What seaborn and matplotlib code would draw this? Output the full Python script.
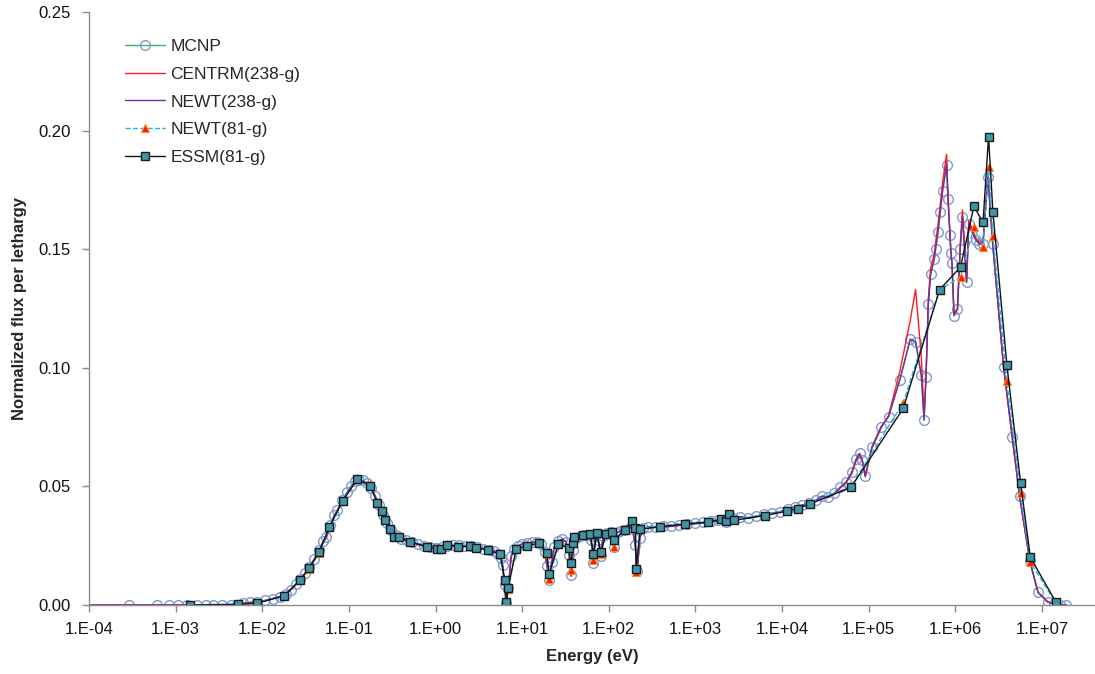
import numpy as np
import pandas as pd
import matplotlib
matplotlib.use("Agg")
import matplotlib.pyplot as plt
import seaborn as sns
from matplotlib.ticker import FuncFormatter, NullLocator

sns.set_theme(style="ticks")
plt.rcParams['font.family'] = ['Liberation Sans', 'DejaVu Sans']

nan = np.nan

# 238-group grid (MCNP tallies, CENTRM and NEWT 238-g share it)
energy_238 = [
    1.0e-4, 2.92e-4, 6.15e-4, 8.46e-4, 1.07e-3, 1.35e-3, 1.75e-3, 2.24e-3, 2.72e-3, 3.41e-3,
    4.33e-3, 5.12e-3, 6.05e-3, 7.23e-3, 8.71e-3, 0.0108, 0.0133, 0.0161, 0.0188, 0.0215,
    0.0245, 0.0273, 0.0312, 0.0347, 0.0396, 0.0453, 0.0504, 0.0546, 0.0607, 0.0675,
    0.0731, 0.0834, 0.0953, 0.106, 0.118, 0.131, 0.146, 0.162, 0.180, 0.201,
    0.223, 0.248, 0.276, 0.307, 0.351, 0.401, 0.458, 0.537, 0.630, 0.738,
    0.867, 1.02, 1.19, 1.36, 1.60, 1.87, 2.20, 2.58, 3.02, 3.55,
    4.16, 4.75, 5.28, 5.72, 5.96, 6.28, 6.53, 6.89, 7.46, 8.09,
    8.99, 10.0, 11.4, 13.0, 14.9, 16.6, 18.2, 19.5, 20.5, 21.9,
    23.4, 26.1, 29.0, 32.2, 34.9, 36.8, 38.8, 42.1, 46.8, 52.0,
    57.8, 62.7, 66.1, 69.7, 75.5, 80.7, 86.1, 95.9, 107, 114,
    122, 136, 151, 167, 186, 202, 213, 228, 250, 285,
    344, 425, 526, 650, 804, 995, 1230, 1520, 1830, 2270,
    2730, 3290, 4070, 5040, 6220, 7710, 9530, 1.18e4, 1.42e4, 1.71e4,
    2.06e4, 2.48e4, 2.91e4, 3.41e4, 4.01e4, 4.70e4, 5.51e4, 6.41e4, 7.13e4, 7.85e4,
    8.43e4, 9.14e4, 1.09e5, 1.39e5, 1.70e5, 2.29e5, 3.02e5, 3.48e5, 4.05e5, 4.36e5,
    4.59e5, 4.88e5, 5.19e5, 5.72e5, 5.93e5, 6.31e5, 6.71e5, 7.13e5, 7.94e5, 8.24e5,
    8.69e5, 8.92e5, 9.16e5, 9.66e5, 1.06e6, 1.14e6, 1.21e6, 1.35e6, 1.43e6, 1.72e6,
    1.89e6, 2.09e6, 2.38e6, 2.70e6, 3.61e6, 4.55e6, 5.53e6, 7.25e6, 9.02e6, 1.16e7,
    1.37e7, 1.63e7, 1.91e7,
]

mcnp = [
    nan, 0.0, 0.0, 0.0, 0.0, 0.0, 0.0, 0.0, 0.0, 0.0,
    0.0001, 0.0002, 0.0007, 0.0011, 0.0013, 0.0019, 0.0027, 0.0034, 0.0046, 0.0065,
    0.0089, 0.0110, 0.0135, 0.0160, 0.0194, 0.0232, 0.0270, 0.0288, 0.0337, 0.0379,
    0.0400, 0.0441, 0.0476, 0.0502, 0.0521, 0.0527, 0.0525, 0.0514, 0.0493, 0.0460,
    0.0422, 0.0379, 0.0346, 0.0316, 0.0293, 0.0280, 0.0272, 0.0264, 0.0255, 0.0249,
    0.0245, 0.0240, 0.0245, 0.0249, 0.0251, 0.0251, 0.0249, 0.0249, 0.0245, 0.0238,
    0.0232, 0.0226, 0.0217, 0.0198, 0.0169, 0.0084, 0.0008, 0.0072, 0.0207, 0.0236,
    0.0249, 0.0257, 0.0261, 0.0264, 0.0266, 0.0255, 0.0223, 0.0164, 0.0105, 0.0181,
    0.0245, 0.0270, 0.0278, 0.0266, 0.0211, 0.0126, 0.0232, 0.0282, 0.0291, 0.0295,
    0.0297, 0.0274, 0.0177, 0.0291, 0.0274, 0.0207, 0.0291, 0.0304, 0.0308, 0.0245,
    0.0304, 0.0312, 0.0316, 0.0320, 0.0329, 0.0253, 0.0143, 0.0282, 0.0325, 0.0329,
    0.0329, 0.0331, 0.0333, 0.0337, 0.0341, 0.0344, 0.0348, 0.0352, 0.0358, 0.0350,
    0.0365, 0.0373, 0.0367, 0.0375, 0.0384, 0.0388, 0.0394, 0.0405, 0.0413, 0.0422,
    0.0430, 0.0443, 0.0460, 0.0455, 0.0472, 0.0497, 0.0520, 0.0562, 0.0614, 0.0640,
    0.0611, 0.0545, 0.0667, 0.0752, 0.0794, 0.0949, 0.1121, 0.1110, 0.0970, 0.0780,
    0.0963, 0.1268, 0.1394, 0.1457, 0.1502, 0.1571, 0.1657, 0.1745, 0.1855, 0.1712,
    0.1560, 0.1483, 0.1441, 0.1220, 0.1247, 0.1501, 0.1637, 0.1360, 0.1605, 0.1539,
    0.1522, 0.1522, 0.1806, 0.1522, 0.1005, 0.0710, 0.0461, 0.0186, 0.0054, 0.0014,
    0.0004, 0.0, 0.0,
]

centrm_238 = [
    0.0, 0.0, 0.0, 0.0, 0.0, 0.0, 0.0, 0.0, 0.0, 0.0,
    0.0001, 0.0002, 0.0007, 0.0011, 0.0013, 0.0019, 0.0027, 0.0034, 0.0046, 0.0065,
    0.0087, 0.0107, 0.0131, 0.0155, 0.0188, 0.0226, 0.0263, 0.0282, 0.0330, 0.0371,
    0.0393, 0.0434, 0.0469, 0.0496, 0.0515, 0.0522, 0.0521, 0.0511, 0.0491, 0.0459,
    0.0421, 0.0379, 0.0346, 0.0315, 0.0292, 0.0279, 0.0271, 0.0263, 0.0254, 0.0248,
    0.0244, 0.0239, 0.0244, 0.0248, 0.0250, 0.0250, 0.0248, 0.0248, 0.0244, 0.0237,
    0.0231, 0.0225, 0.0215, 0.0195, 0.0160, 0.0070, 0.0004, 0.0060, 0.0200, 0.0234,
    0.0248, 0.0256, 0.0260, 0.0263, 0.0265, 0.0253, 0.0218, 0.0155, 0.0098, 0.0175,
    0.0243, 0.0269, 0.0277, 0.0265, 0.0205, 0.0120, 0.0228, 0.0281, 0.0290, 0.0294,
    0.0296, 0.0270, 0.0172, 0.0289, 0.0272, 0.0203, 0.0289, 0.0303, 0.0307, 0.0240,
    0.0303, 0.0311, 0.0315, 0.0319, 0.0328, 0.0250, 0.0140, 0.0280, 0.0323, 0.0327,
    0.0327, 0.0329, 0.0331, 0.0335, 0.0339, 0.0342, 0.0346, 0.0350, 0.0355, 0.0349,
    0.0362, 0.0370, 0.0366, 0.0373, 0.0382, 0.0386, 0.0392, 0.0403, 0.0411, 0.0420,
    0.0428, 0.0440, 0.0457, 0.0453, 0.0469, 0.0493, 0.0515, 0.0555, 0.0605, 0.0635,
    0.0610, 0.0540, 0.0660, 0.0745, 0.0800, 0.0985, 0.1200, 0.1330, 0.1050, 0.0800,
    0.0960, 0.1290, 0.1420, 0.1480, 0.1530, 0.1600, 0.1690, 0.1780, 0.1900, 0.1720,
    0.1560, 0.1480, 0.1440, 0.1230, 0.1250, 0.1520, 0.1665, 0.1370, 0.1620, 0.1550,
    0.1530, 0.1530, 0.1820, 0.1530, 0.1000, 0.0700, 0.0455, 0.0183, 0.0052, 0.0013,
    0.0003, 0.0, 0.0,
]

newt_238 = [
    0.0, 0.0, 0.0, 0.0, 0.0, 0.0, 0.0, 0.0, 0.0, 0.0,
    0.0001, 0.0002, 0.0006, 0.0010, 0.0013, 0.0019, 0.0027, 0.0035, 0.0046, 0.0065,
    0.0088, 0.0108, 0.0133, 0.0158, 0.0191, 0.0229, 0.0266, 0.0285, 0.0333, 0.0374,
    0.0396, 0.0437, 0.0472, 0.0499, 0.0518, 0.0524, 0.0523, 0.0512, 0.0492, 0.0460,
    0.0422, 0.0380, 0.0347, 0.0316, 0.0293, 0.0280, 0.0272, 0.0264, 0.0255, 0.0249,
    0.0245, 0.0240, 0.0245, 0.0249, 0.0251, 0.0251, 0.0249, 0.0249, 0.0245, 0.0238,
    0.0232, 0.0226, 0.0216, 0.0196, 0.0165, 0.0078, 0.0005, 0.0066, 0.0204, 0.0235,
    0.0249, 0.0257, 0.0261, 0.0264, 0.0266, 0.0254, 0.0220, 0.0160, 0.0102, 0.0178,
    0.0244, 0.0270, 0.0278, 0.0266, 0.0208, 0.0123, 0.0230, 0.0282, 0.0291, 0.0295,
    0.0297, 0.0272, 0.0175, 0.0290, 0.0273, 0.0205, 0.0290, 0.0304, 0.0308, 0.0243,
    0.0304, 0.0312, 0.0316, 0.0320, 0.0329, 0.0252, 0.0142, 0.0281, 0.0324, 0.0328,
    0.0328, 0.0330, 0.0332, 0.0336, 0.0340, 0.0343, 0.0347, 0.0351, 0.0357, 0.0350,
    0.0364, 0.0372, 0.0367, 0.0374, 0.0383, 0.0387, 0.0393, 0.0404, 0.0412, 0.0421,
    0.0429, 0.0442, 0.0459, 0.0454, 0.0471, 0.0496, 0.0518, 0.0560, 0.0612, 0.0638,
    0.0611, 0.0545, 0.0665, 0.0750, 0.0795, 0.0950, 0.1120, 0.1110, 0.0968, 0.0780,
    0.0963, 0.1268, 0.1394, 0.1457, 0.1502, 0.1571, 0.1657, 0.1745, 0.1860, 0.1712,
    0.1560, 0.1483, 0.1441, 0.1220, 0.1247, 0.1501, 0.1640, 0.1360, 0.1605, 0.1539,
    0.1522, 0.1522, 0.1806, 0.1522, 0.1005, 0.0710, 0.0461, 0.0186, 0.0054, 0.0014,
    0.0004, 0.0, 0.0,
]

# 81-group grid (NEWT 81-g and ESSM)
energy_81 = [
    1.47e-3, 5.2e-3, 8.65e-3, 0.0179, 0.0273, 0.0347, 0.0453, 0.0596, 0.0851, 0.125,
    0.176, 0.213, 0.240, 0.264, 0.297, 0.335, 0.380, 0.513, 0.791, 1.03,
    1.17, 1.35, 1.84, 2.51, 2.94, 4.02, 5.57, 6.31, 6.59, 6.89,
    8.53, 11.5, 15.7, 19.1, 20.5, 26.2, 34.3, 36.8, 38.5, 39.8,
    50.2, 61.0, 66.6, 72.9, 81.1, 92.6, 109, 115, 152, 186,
    202, 207, 230, 395, 762, 1380, 1986, 2270, 2410, 2806,
    6280, 1.13e4, 1.51e4, 2.10e4, 6.25e4, 2.51e5, 6.59e5, 1.15e6, 1.64e6, 2.09e6,
    2.42e6, 2.72e6, 3.94e6, 5.68e6, 7.35e6, 1.44e7,
]

newt_81 = [
    0.0, 0.0003, 0.0008, 0.0040, 0.0106, 0.0152, 0.0219, 0.0328, 0.0440, 0.0535,
    0.0508, 0.0433, 0.0400, 0.0364, 0.0322, 0.0292, 0.0292, 0.0269, 0.0249, 0.0240,
    0.0238, 0.0256, 0.0249, 0.0250, 0.0245, 0.0235, 0.0216, 0.0100, 0.0, 0.0068,
    0.0238, 0.0253, 0.0264, 0.0214, 0.0110, 0.0259, 0.0240, 0.0148, 0.0263, 0.0290,
    0.0298, 0.0301, 0.0190, 0.0305, 0.0215, 0.0301, 0.0312, 0.0245, 0.0319, 0.0350,
    0.0329, 0.0140, 0.0322, 0.0334, 0.0346, 0.0353, 0.0365, 0.0358, 0.0384, 0.0361,
    0.0381, 0.0399, 0.0410, 0.0430, 0.0500, 0.0853, 0.1329, 0.1383, 0.1592, 0.1509,
    0.1848, 0.1557, 0.0944, 0.0471, 0.0180, 0.0010,
]

essm_81 = [
    0.0, 0.0003, 0.0007, 0.0039, 0.0105, 0.0155, 0.0222, 0.0330, 0.0440, 0.0530,
    0.0503, 0.0429, 0.0396, 0.0360, 0.0319, 0.0288, 0.0288, 0.0266, 0.0246, 0.0237,
    0.0235, 0.0253, 0.0246, 0.0247, 0.0242, 0.0232, 0.0214, 0.0104, 0.0011, 0.0073,
    0.0235, 0.0250, 0.0261, 0.0218, 0.0132, 0.0256, 0.0242, 0.0176, 0.0260, 0.0288,
    0.0295, 0.0298, 0.0215, 0.0302, 0.0223, 0.0298, 0.0309, 0.0274, 0.0316, 0.0354,
    0.0326, 0.0153, 0.0319, 0.0330, 0.0342, 0.0349, 0.0361, 0.0354, 0.0384, 0.0357,
    0.0377, 0.0395, 0.0406, 0.0426, 0.0496, 0.0829, 0.1329, 0.1425, 0.1681, 0.1613,
    0.1973, 0.1656, 0.1012, 0.0514, 0.0201, 0.0014,
]

df238 = pd.DataFrame({'Energy': energy_238, 'MCNP': mcnp,
                      'CENTRM': centrm_238, 'NEWT238': newt_238})
df81 = pd.DataFrame({'Energy': energy_81, 'NEWT81': newt_81, 'ESSM': essm_81})

fig = plt.figure(figsize=(10.95, 6.74), dpi=100)
ax = fig.add_axes([0.0813, 0.1024, 0.9187, 0.8798])

sns.lineplot(data=df238, x='Energy', y='MCNP', ax=ax, estimator=None, sort=False,
             color='#3cb371', linewidth=1.0, marker='o', markersize=7,
             markerfacecolor='none', markeredgecolor='#7f9bcc', markeredgewidth=1.0,
             label='MCNP')
sns.lineplot(data=df238, x='Energy', y='CENTRM', ax=ax, estimator=None, sort=False,
             color='#ff1a1a', linewidth=1.0, label='CENTRM(238-g)')
sns.lineplot(data=df238, x='Energy', y='NEWT238', ax=ax, estimator=None, sort=False,
             color='#7030a0', linewidth=1.0, label='NEWT(238-g)')
sns.lineplot(data=df81, x='Energy', y='NEWT81', ax=ax, estimator=None, sort=False,
             color='#1fb8f0', linewidth=1.0, linestyle='--', marker='^', markersize=6,
             markerfacecolor='#ff1a00', markeredgecolor='#ff8c1a', markeredgewidth=0.8,
             label='NEWT(81-g)')
sns.lineplot(data=df81, x='Energy', y='ESSM', ax=ax, estimator=None, sort=False,
             color='#111111', linewidth=1.0, marker='s', markersize=6,
             markerfacecolor='#3f95a8', markeredgecolor='#1a1a1a', markeredgewidth=1.0,
             label='ESSM(81-g)')

ax.set_xscale('log')
ax.set_xlim(1e-4, 4.1e7)
ax.set_ylim(0, 0.25)
ax.set_xticks([10.0 ** k for k in range(-4, 8)])
ax.xaxis.set_minor_locator(NullLocator())
ax.xaxis.set_major_formatter(FuncFormatter(lambda v, p: "1.E%+03d" % int(round(np.log10(v)))))
ax.set_yticks([0, 0.05, 0.10, 0.15, 0.20, 0.25])
ax.yaxis.set_major_formatter(FuncFormatter(lambda v, p: "%.2f" % v))

for s in ['top', 'right']:
    ax.spines[s].set_visible(False)
for s in ['left', 'bottom']:
    ax.spines[s].set_color('#8c8c8c')
    ax.spines[s].set_linewidth(1.0)
ax.tick_params(axis='both', direction='out', length=5, width=1, color='#8c8c8c',
               labelsize=12, labelcolor='#111111')
ax.tick_params(axis='y', pad=8)
ax.tick_params(axis='x', pad=7)
ax.grid(False)

ax.set_xlabel('Energy (eV)', fontsize=12, fontweight='bold')
ax.set_ylabel('Normalized flux per lethargy', fontsize=12, fontweight='bold')
ax.xaxis.set_label_coords(0.5, -0.075)
ax.yaxis.set_label_coords(-0.062, 0.5)

ax.legend(loc='upper left', bbox_to_anchor=(0.029, 0.966), frameon=False,
          fontsize=12.5, handlelength=2.3, labelspacing=0.72, handletextpad=0.3,
          borderaxespad=0.0)

fig.savefig('out.png', dpi=100)
